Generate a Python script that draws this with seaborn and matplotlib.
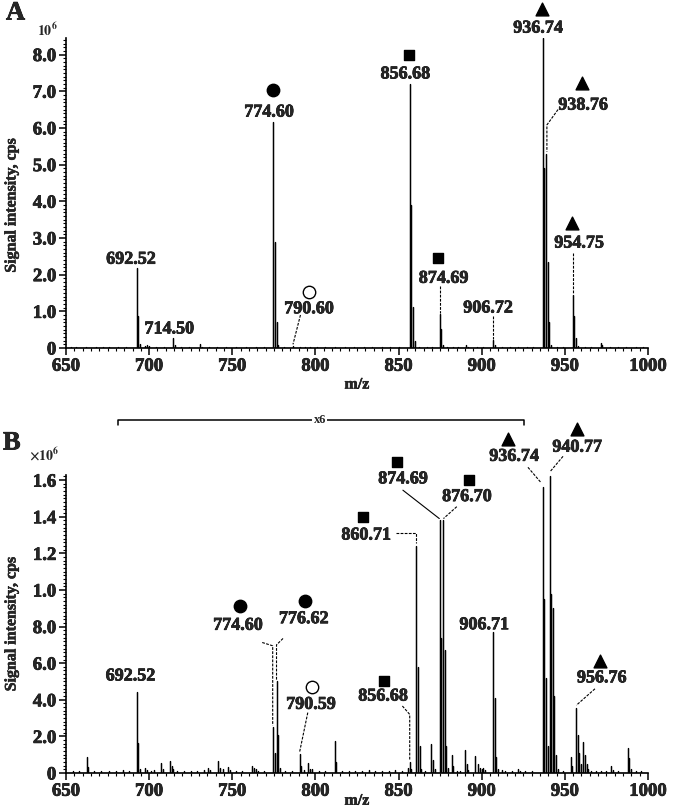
import numpy as np
import pandas as pd
import matplotlib
matplotlib.use("Agg")
import matplotlib.pyplot as plt
import matplotlib.patheffects as pe
import seaborn as sns
from matplotlib.ticker import MultipleLocator, FixedLocator, FixedFormatter

# ---------------- data (intensity in units of 10^6 cps) ----------------
a_mz = [653, 656, 662, 668, 672, 676, 681, 686,
        692.52, 693.52, 694.5, 697.5, 699, 700, 704, 709, 714.50, 715.5, 719, 724,
        730.5, 731.5, 736, 741, 746, 752, 758, 764, 769,
        774.60, 775.6, 776.6, 777.6, 781, 786.5, 790.6, 794, 797, 801, 806, 812,
        818, 823, 829, 834, 840, 845, 850,
        856.68, 857.68, 858.68, 859.7, 862, 867, 870,
        874.69, 875.69, 876.7, 879, 883, 886, 890.5, 892, 897, 901,
        906.72, 907.72, 912, 917, 922, 927, 931,
        936.74, 937.75, 938.76, 939.76, 940.76, 941.8, 945, 949,
        954.75, 955.75, 956.75, 957.75, 962, 966, 971.5, 972.5, 977, 982, 987, 993, 997]
a_int = [0.02, 0.03, 0.03, 0.02, 0.03, 0.02, 0.03, 0.02,
         2.18, 0.88, 0.12, 0.05, 0.09, 0.05, 0.03, 0.03, 0.27, 0.09, 0.03, 0.02,
         0.12, 0.04, 0.02, 0.03, 0.02, 0.03, 0.02, 0.03, 0.02,
         6.15, 2.90, 0.72, 0.08, 0.02, 0.05, 0.04, 0.03, 0.04, 0.02, 0.03, 0.03,
         0.02, 0.03, 0.02, 0.02, 0.03, 0.02, 0.02,
         7.20, 3.90, 1.12, 0.18, 0.03, 0.02, 0.03,
         0.93, 0.52, 0.08, 0.04, 0.03, 0.02, 0.07, 0.03, 0.02, 0.03,
         0.22, 0.09, 0.02, 0.03, 0.02, 0.02, 0.03,
         8.44, 4.90, 5.30, 2.35, 0.70, 0.08, 0.03, 0.02,
         1.45, 0.88, 0.28, 0.06, 0.03, 0.02, 0.14, 0.07, 0.02, 0.03, 0.02, 0.02, 0.02]

b_mz = [654, 658, 662.4, 663.4, 667, 671, 676, 680, 684, 688,
        692.52, 693.52, 694.5, 697.8, 699, 701, 703, 707.3, 708.3, 712.5, 713.5, 714.5,
        717, 721, 725, 729, 733, 735.5, 736.5, 741.5, 742.5, 744.5, 747.5, 748.5,
        752, 756, 761.8, 762.8, 764, 765.5, 769,
        774.60, 775.6, 776.62, 777.6, 778.6, 782, 786,
        790.59, 791.6, 793, 795.4, 796.5, 798, 802, 806,
        811.5, 812.5, 816, 820, 824, 828, 832, 836, 840, 844, 848, 852,
        855.5, 856.68, 857.7,
        860.71, 861.7, 862.7, 863.7, 866, 869.5, 870.6, 872,
        874.69, 875.7, 876.70, 877.7, 878.7, 879.7,
        882, 883, 885, 887, 890, 891, 892, 896, 897.5, 899, 900, 901, 902,
        906.71, 907.7, 908.7, 909.7, 912, 914, 918, 921.8, 923, 926, 930,
        936.74, 937.7, 938.7, 939.7, 940.77, 941.7, 942.7, 943.7, 944.7, 945.7,
        949, 953.5, 954.5, 956.76, 957.7, 958.7, 959.7, 961.2, 962.2, 963.2, 964.2,
        966, 969, 972, 975, 978, 979, 982, 987.8, 988.8, 989.8, 993, 996]
b_int = [0.01, 0.01, 0.086, 0.035, 0.01, 0.012, 0.01, 0.012, 0.015, 0.01,
         0.44, 0.165, 0.02, 0.025, 0.015, 0.012, 0.015, 0.054, 0.02, 0.068, 0.04, 0.02,
         0.01, 0.012, 0.01, 0.012, 0.015, 0.03, 0.015, 0.063, 0.03, 0.02, 0.035, 0.015,
         0.01, 0.012, 0.04, 0.025, 0.02, 0.01, 0.012,
         0.25, 0.11, 0.505, 0.21, 0.025, 0.01, 0.012,
         0.105, 0.04, 0.015, 0.055, 0.02, 0.02, 0.01, 0.012,
         0.177, 0.06, 0.01, 0.012, 0.01, 0.012, 0.015, 0.01, 0.01, 0.012, 0.015, 0.01,
         0.03, 0.06, 0.02,
         1.24, 0.58, 0.15, 0.02, 0.01, 0.16, 0.07, 0.02,
         1.38, 0.74, 1.38, 0.67, 0.15, 0.03,
         0.10, 0.04, 0.01, 0.01, 0.125, 0.05, 0.015, 0.095, 0.05, 0.03, 0.02, 0.03, 0.015,
         0.77, 0.41, 0.09, 0.02, 0.015, 0.01, 0.01, 0.02, 0.012, 0.01, 0.01,
         1.56, 0.95, 0.52, 0.15, 1.62, 0.98, 0.90, 0.42, 0.10, 0.02,
         0.01, 0.09, 0.04, 0.355, 0.21, 0.11, 0.05, 0.17, 0.10, 0.05, 0.02,
         0.01, 0.01, 0.012, 0.01, 0.04, 0.015, 0.01, 0.135, 0.08, 0.02, 0.01, 0.01]

x_ticks = [650, 700, 750, 800, 850, 900, 950, 1000]
a_yticks = [0, 1, 2, 3, 4, 5, 6, 7, 8]
a_yticklabels = ["0", "1.0", "2.0", "3.0", "4.0", "5.0", "6.0", "7.0", "8.0"]
b_yticks = [0, 0.2, 0.4, 0.6, 0.8, 1.0, 1.2, 1.4, 1.6]
b_yticklabels = ["0", "2.0", "4.0", "6.0", "8.0", "1.0", "1.2", "1.4", "1.6"]

# annotations: (text, text_x, text_y, marker, marker_x, marker_y, leader path, leader style)
a_notes = [
    ("692.52", 689.0, 2.42, None, 0, 0, [], ""),
    ("714.50", 712.0, 0.52, None, 0, 0, [], ""),
    ("774.60", 772.0, 6.43, "circle", 774.6, 7.03, [], ""),
    ("790.60", 796.0, 1.07, "open", 796.4, 1.54, [(791.0, 0.90), (786.5, 0.10)], "--"),
    ("856.68", 854.0, 7.47, "square", 856.5, 8.00, [], ""),
    ("874.69", 877.0, 1.90, "square", 874.0, 2.45, [(874.69, 1.68), (874.69, 0.95)], "--"),
    ("906.72", 903.7, 1.09, None, 0, 0, [(906.72, 0.86), (906.72, 0.24)], "--"),
    ("936.74", 933.8, 8.72, "triangle", 936.2, 9.24, [], ""),
    ("938.76", 960.9, 6.62, "triangle", 960.3, 7.22,
     [(945.9, 6.50), (939.2, 6.08), (939.2, 5.35)], "--"),
    ("954.75", 958.5, 2.86, "triangle", 954.0, 3.40, [(954.75, 2.60), (954.75, 1.47)], "--"),
]
b_notes = [
    ("692.52", 688.7, 0.53, None, 0, 0, [], ""),
    ("774.60", 753.3, 0.807, "circle", 754.6, 0.915,
     [(768.0, 0.713), (774.3, 0.695), (774.3, 0.26)], "--"),
    ("776.62", 792.9, 0.843, "circle", 793.9, 0.937,
     [(780.5, 0.735), (776.6, 0.70), (776.6, 0.51)], "--"),
    ("790.59", 797.2, 0.375, "open", 798.0, 0.468, [(795.4, 0.33), (790.5, 0.115)], "--"),
    ("856.68", 840.6, 0.42, "square", 841.2, 0.505,
     [(852.3, 0.366), (856.7, 0.32), (856.7, 0.07)], "--"),
    ("860.71", 830.4, 1.30, "square", 828.6, 1.40,
     [(848.4, 1.31), (860.5, 1.31), (860.5, 1.255)], "--"),
    ("874.69", 852.6, 1.607, "square", 849.0, 1.70, [(852.6, 1.545), (874.5, 1.39)], "-"),
    ("876.70", 891.0, 1.51, "square", 892.3, 1.60, [(885.0, 1.455), (877.0, 1.39)], "--"),
    ("906.71", 901.4, 0.81, None, 0, 0, [], ""),
    ("936.74", 919.4, 1.73, "triangle", 915.8, 1.825, [(927.8, 1.67), (935.8, 1.585)], "--"),
    ("940.77", 957.3, 1.78, "triangle", 957.3, 1.88, [(948.9, 1.73), (941.0, 1.645)], "--"),
    ("956.76", 972.1, 0.52, "triangle", 971.0, 0.61, [(968.1, 0.46), (956.9, 0.37)], "--"),
]

# ---------------- style ----------------
sns.set_theme(style="ticks")
plt.rcParams["font.family"] = ["Liberation Serif", "DejaVu Serif"]
plt.rcParams["font.weight"] = "bold"
plt.rcParams["axes.labelweight"] = "bold"
plt.rcParams["mathtext.fontset"] = "stix"

HEAVY = [pe.withStroke(linewidth=0.5, foreground="black")]
LIGHT = [pe.withStroke(linewidth=0.35, foreground="black")]

FIG_W, FIG_H = 673, 810
fig = plt.figure(figsize=(FIG_W / 100, FIG_H / 100), dpi=100)
fig.patch.set_facecolor("white")

axA = fig.add_axes([66 / FIG_W, 1 - 348 / FIG_H, 582 / FIG_W, 310 / FIG_H])
axB = fig.add_axes([66 / FIG_W, 1 - 773 / FIG_H, 582 / FIG_W, 298 / FIG_H])

marker_spec = {"circle": ("o", 80, "black"), "open": ("o", 80, "white"),
               "square": ("s", 62, "black"), "triangle": ("^", 85, "black")}


def stick_frame(mz, inten):
    xs, ys = [650.0], [0.0]
    for m, v in zip(mz, inten):
        xs += [m, m, m]
        ys += [0.0, v, 0.0]
    xs.append(1000.0)
    ys.append(0.0)
    return pd.DataFrame({"mz": xs, "intensity": ys})


def draw_panel(ax, mz, inten, ylim, yticks, yticklabels, minor, notes):
    df = stick_frame(mz, inten)
    sns.lineplot(data=df, x="mz", y="intensity", estimator=None, sort=False,
                 color="black", lw=0.9, ax=ax)
    ax.set_xlim(650, 1000)
    ax.set_ylim(*ylim)
    ax.xaxis.set_major_locator(FixedLocator(x_ticks))
    ax.xaxis.set_minor_locator(MultipleLocator(5))
    ax.yaxis.set_major_locator(FixedLocator(yticks))
    ax.yaxis.set_major_formatter(FixedFormatter(yticklabels))
    ax.yaxis.set_minor_locator(MultipleLocator(minor))
    ax.tick_params(axis="both", which="major", length=5, width=1.1, labelsize=13.5,
                   direction="out", pad=2, color="black")
    ax.tick_params(axis="both", which="minor", length=2.5, width=0.8, direction="out",
                   color="black")
    for lab in ax.get_xticklabels() + ax.get_yticklabels():
        lab.set_fontweight("bold")
        lab.set_path_effects(HEAVY)
    sns.despine(ax=ax)
    for s in ("left", "bottom"):
        ax.spines[s].set_linewidth(1.2)
        ax.spines[s].set_color("black")
    ax.set_xlabel("m/z", fontsize=11.5, fontweight="bold")
    ax.set_ylabel("Signal intensity, cps", fontsize=11.5, fontweight="bold")
    ax.xaxis.label.set_path_effects(LIGHT)
    ax.yaxis.label.set_path_effects(LIGHT)
    ax.set_facecolor("white")

    for text, tx, ty, mk, mx, my, path, ls in notes:
        ax.text(tx, ty, text, ha="center", va="center", fontsize=13,
                fontweight="bold", clip_on=False, zorder=6, path_effects=HEAVY)
        if mk is not None:
            m, s, fc = marker_spec[mk]
            sns.scatterplot(x=[mx], y=[my], marker=m, s=s, color=fc,
                            edgecolor="black", linewidth=1.0, ax=ax,
                            clip_on=False, zorder=7, legend=False)
        if path:
            px = [p[0] for p in path]
            py = [p[1] for p in path]
            ax.plot(px, py, color="black", lw=0.8,
                    dashes=(2.5, 1.2) if ls == "--" else (None, None),
                    clip_on=False, zorder=5)


draw_panel(axA, a_mz, a_int, (0, 8.45), a_yticks, a_yticklabels, 0.1, a_notes)
draw_panel(axB, b_mz, b_int, (0, 1.628), b_yticks, b_yticklabels, 0.02, b_notes)
axA.yaxis.set_label_coords(-0.08, 0.46)
axB.yaxis.set_label_coords(-0.08, 0.50)
axA.xaxis.set_label_coords(0.5, -0.092)
axB.xaxis.set_label_coords(0.5, -0.066)

# bracket "x6" above panel B
axB.plot([681.3, 681.3, 925.4, 925.4], [1.90, 1.93, 1.93, 1.90], color="black",
         lw=1.1, clip_on=False)
axB.text(802.7, 1.93, "x6", ha="center", va="center", fontsize=9, fontweight="bold",
         clip_on=False, bbox=dict(facecolor="white", edgecolor="none", pad=1.0))

# panel letters and exponents
fig.text(6 / FIG_W, 1 - 13 / FIG_H, "A", fontsize=19, fontweight="bold", ha="left",
         va="center", path_effects=HEAVY)
fig.text(3 / FIG_W, 1 - 443 / FIG_H, "B", fontsize=19, fontweight="bold", ha="left",
         va="center", path_effects=HEAVY)
fig.text(47 / FIG_W, 1 - 30 / FIG_H, r"$\mathbf{10^{6}}$", fontsize=10, ha="center", va="center")
fig.text(44 / FIG_W, 1 - 455 / FIG_H, r"$\mathbf{\times 10^{6}}$", fontsize=10, ha="center", va="center")

fig.savefig("out.png", dpi=100, facecolor="white")
